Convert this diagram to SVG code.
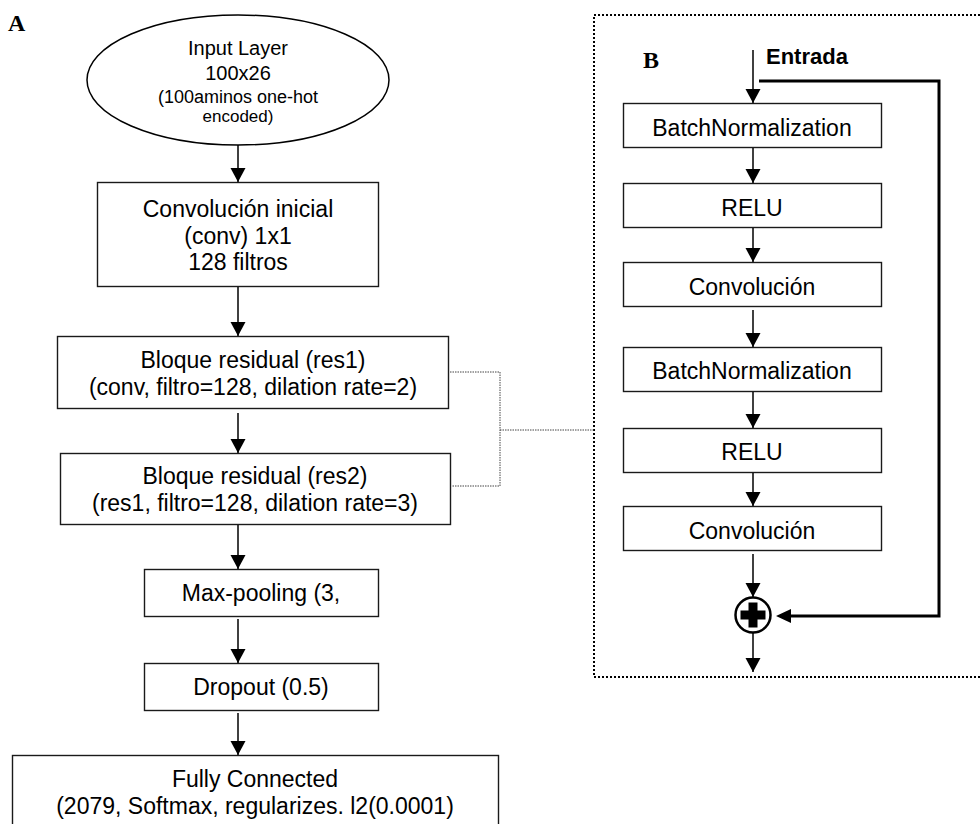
<svg xmlns="http://www.w3.org/2000/svg" width="980" height="824" viewBox="0 0 980 824">
<defs>
<style>
.box{fill:#fff;stroke:#1a1a1a;stroke-width:1.4}
.t{font-family:"Liberation Sans",Arial,sans-serif;font-size:23px;fill:#000;text-anchor:middle}
.ts{font-family:"Liberation Sans",Arial,sans-serif;fill:#000;text-anchor:middle}
.lbl{font-family:"Liberation Serif","Times New Roman",serif;font-weight:bold;font-size:24px;fill:#000}
.ar{stroke:#000;stroke-width:1.5;fill:none;marker-end:url(#ah)}
.thick{stroke:#000;stroke-width:3;fill:none}
.dot{stroke:#444;stroke-width:1;fill:none;stroke-dasharray:1.5 1}
</style>
<marker id="ah" markerUnits="userSpaceOnUse" markerWidth="16" markerHeight="16" refX="14" refY="8" orient="auto">
<path d="M0,0.5 L14,8 L0,15.5 z" fill="#000"/>
</marker>
</defs>
<rect width="980" height="824" fill="#fff"/>

<text class="lbl" x="8" y="31">A</text>

<g id="input">
<ellipse cx="238" cy="80" rx="151" ry="65" fill="#fff" stroke="#000" stroke-width="1.5"/>
<text class="ts" x="238" y="55" font-size="20">Input Layer</text>
<text class="ts" x="238" y="80" font-size="20">100x26</text>
<text class="ts" x="238" y="103" font-size="18">(100aminos one-hot</text>
<text class="ts" x="238" y="122" font-size="17">encoded)</text>
</g>

<g id="conv0">
<rect class="box" x="97.5" y="182.5" width="281" height="104"/>
<text class="t" x="238" y="217">Convolución inicial</text>
<text class="t" x="238" y="244">(conv) 1x1</text>
<text class="t" x="238" y="270">128 filtros</text>
</g>

<g id="res1">
<rect class="box" x="57.5" y="336.5" width="391" height="72"/>
<text class="t" x="253" y="368">Bloque residual (res1)</text>
<text class="t" x="253" y="395">(conv, filtro=128, dilation rate=2)</text>
</g>

<g id="res2">
<rect class="box" x="60.5" y="453.5" width="390" height="71"/>
<text class="t" x="255" y="484">Bloque residual (res2)</text>
<text class="t" x="255" y="511">(res1, filtro=128, dilation rate=3)</text>
</g>

<g id="maxpool">
<rect class="box" x="144.5" y="569.5" width="234" height="47"/>
<text class="t" x="261" y="601">Max-pooling (3,</text>
</g>

<g id="dropout">
<rect class="box" x="144.5" y="663.5" width="234" height="47"/>
<text class="t" x="261" y="695">Dropout (0.5)</text>
</g>

<g id="fc">
<rect class="box" x="12.5" y="755.5" width="486" height="80"/>
<text class="t" x="255" y="787">Fully Connected</text>
<text class="t" x="255" y="814">(2079, Softmax, regularizes. l2(0.0001)</text>
</g>

<g id="panelB">
<rect x="594" y="15" width="420" height="662" fill="none" stroke="#000" stroke-width="2" stroke-dasharray="2 2"/>
<text class="lbl" x="643" y="68" font-size="22">B</text>
<text x="766" y="64" font-family="'Liberation Sans',Arial,sans-serif" font-weight="bold" font-size="22" fill="#000">Entrada</text>
</g>

<g id="bn1">
<rect class="box" x="623.5" y="103.5" width="258" height="44"/>
<text class="t" x="752" y="136">BatchNormalization</text>
</g>
<g id="relu1">
<rect class="box" x="623.5" y="183.5" width="258" height="44"/>
<text class="t" x="752" y="216">RELU</text>
</g>
<g id="conv1">
<rect class="box" x="623.5" y="262.5" width="258" height="44"/>
<text class="t" x="752" y="295">Convolución</text>
</g>
<g id="bn2">
<rect class="box" x="623.5" y="347.5" width="258" height="44"/>
<text class="t" x="752" y="379">BatchNormalization</text>
</g>
<g id="relu2">
<rect class="box" x="623.5" y="428.5" width="258" height="44"/>
<text class="t" x="752" y="460">RELU</text>
</g>
<g id="conv2">
<rect class="box" x="623.5" y="506.5" width="258" height="44"/>
<text class="t" x="752" y="539">Convolución</text>
</g>
<g id="add">
<circle cx="753" cy="615" r="17.5" fill="#fff" stroke="#000" stroke-width="2.5"/>
<path d="M748.5,602.5 h9 v8 h8 v9 h-8 v8 h-9 v-8 h-8 v-9 h8 z" fill="#000"/>
</g>

<g id="connectors">
<line class="ar" x1="238" y1="145" x2="238" y2="182"/>
<line class="ar" x1="238" y1="287" x2="238" y2="336"/>
<line class="ar" x1="238" y1="413" x2="238" y2="453"/>
<line class="ar" x1="238" y1="525" x2="238" y2="569"/>
<line class="ar" x1="238" y1="619" x2="238" y2="663"/>
<line class="ar" x1="238" y1="713" x2="238" y2="755"/>
<polyline class="dot" points="450,372 500,372 500,486 452,486"/>
<line class="dot" x1="500" y1="430" x2="594" y2="430"/>

<line class="ar" x1="753" y1="50" x2="753" y2="103"/>
<line class="ar" x1="753" y1="148" x2="753" y2="183"/>
<line class="ar" x1="753" y1="228" x2="753" y2="262"/>
<line class="ar" x1="753" y1="310" x2="753" y2="347"/>
<line class="ar" x1="753" y1="392" x2="753" y2="428"/>
<line class="ar" x1="753" y1="473" x2="753" y2="506"/>
<line class="ar" x1="753" y1="554" x2="753" y2="597"/>
<line class="ar" x1="753" y1="633" x2="753" y2="672"/>
<polyline class="thick" points="759,81 939,81 939,616 790,616"/>
<path d="M776,616 L791,609 L791,623 z" fill="#000"/>
</g>
</svg>
